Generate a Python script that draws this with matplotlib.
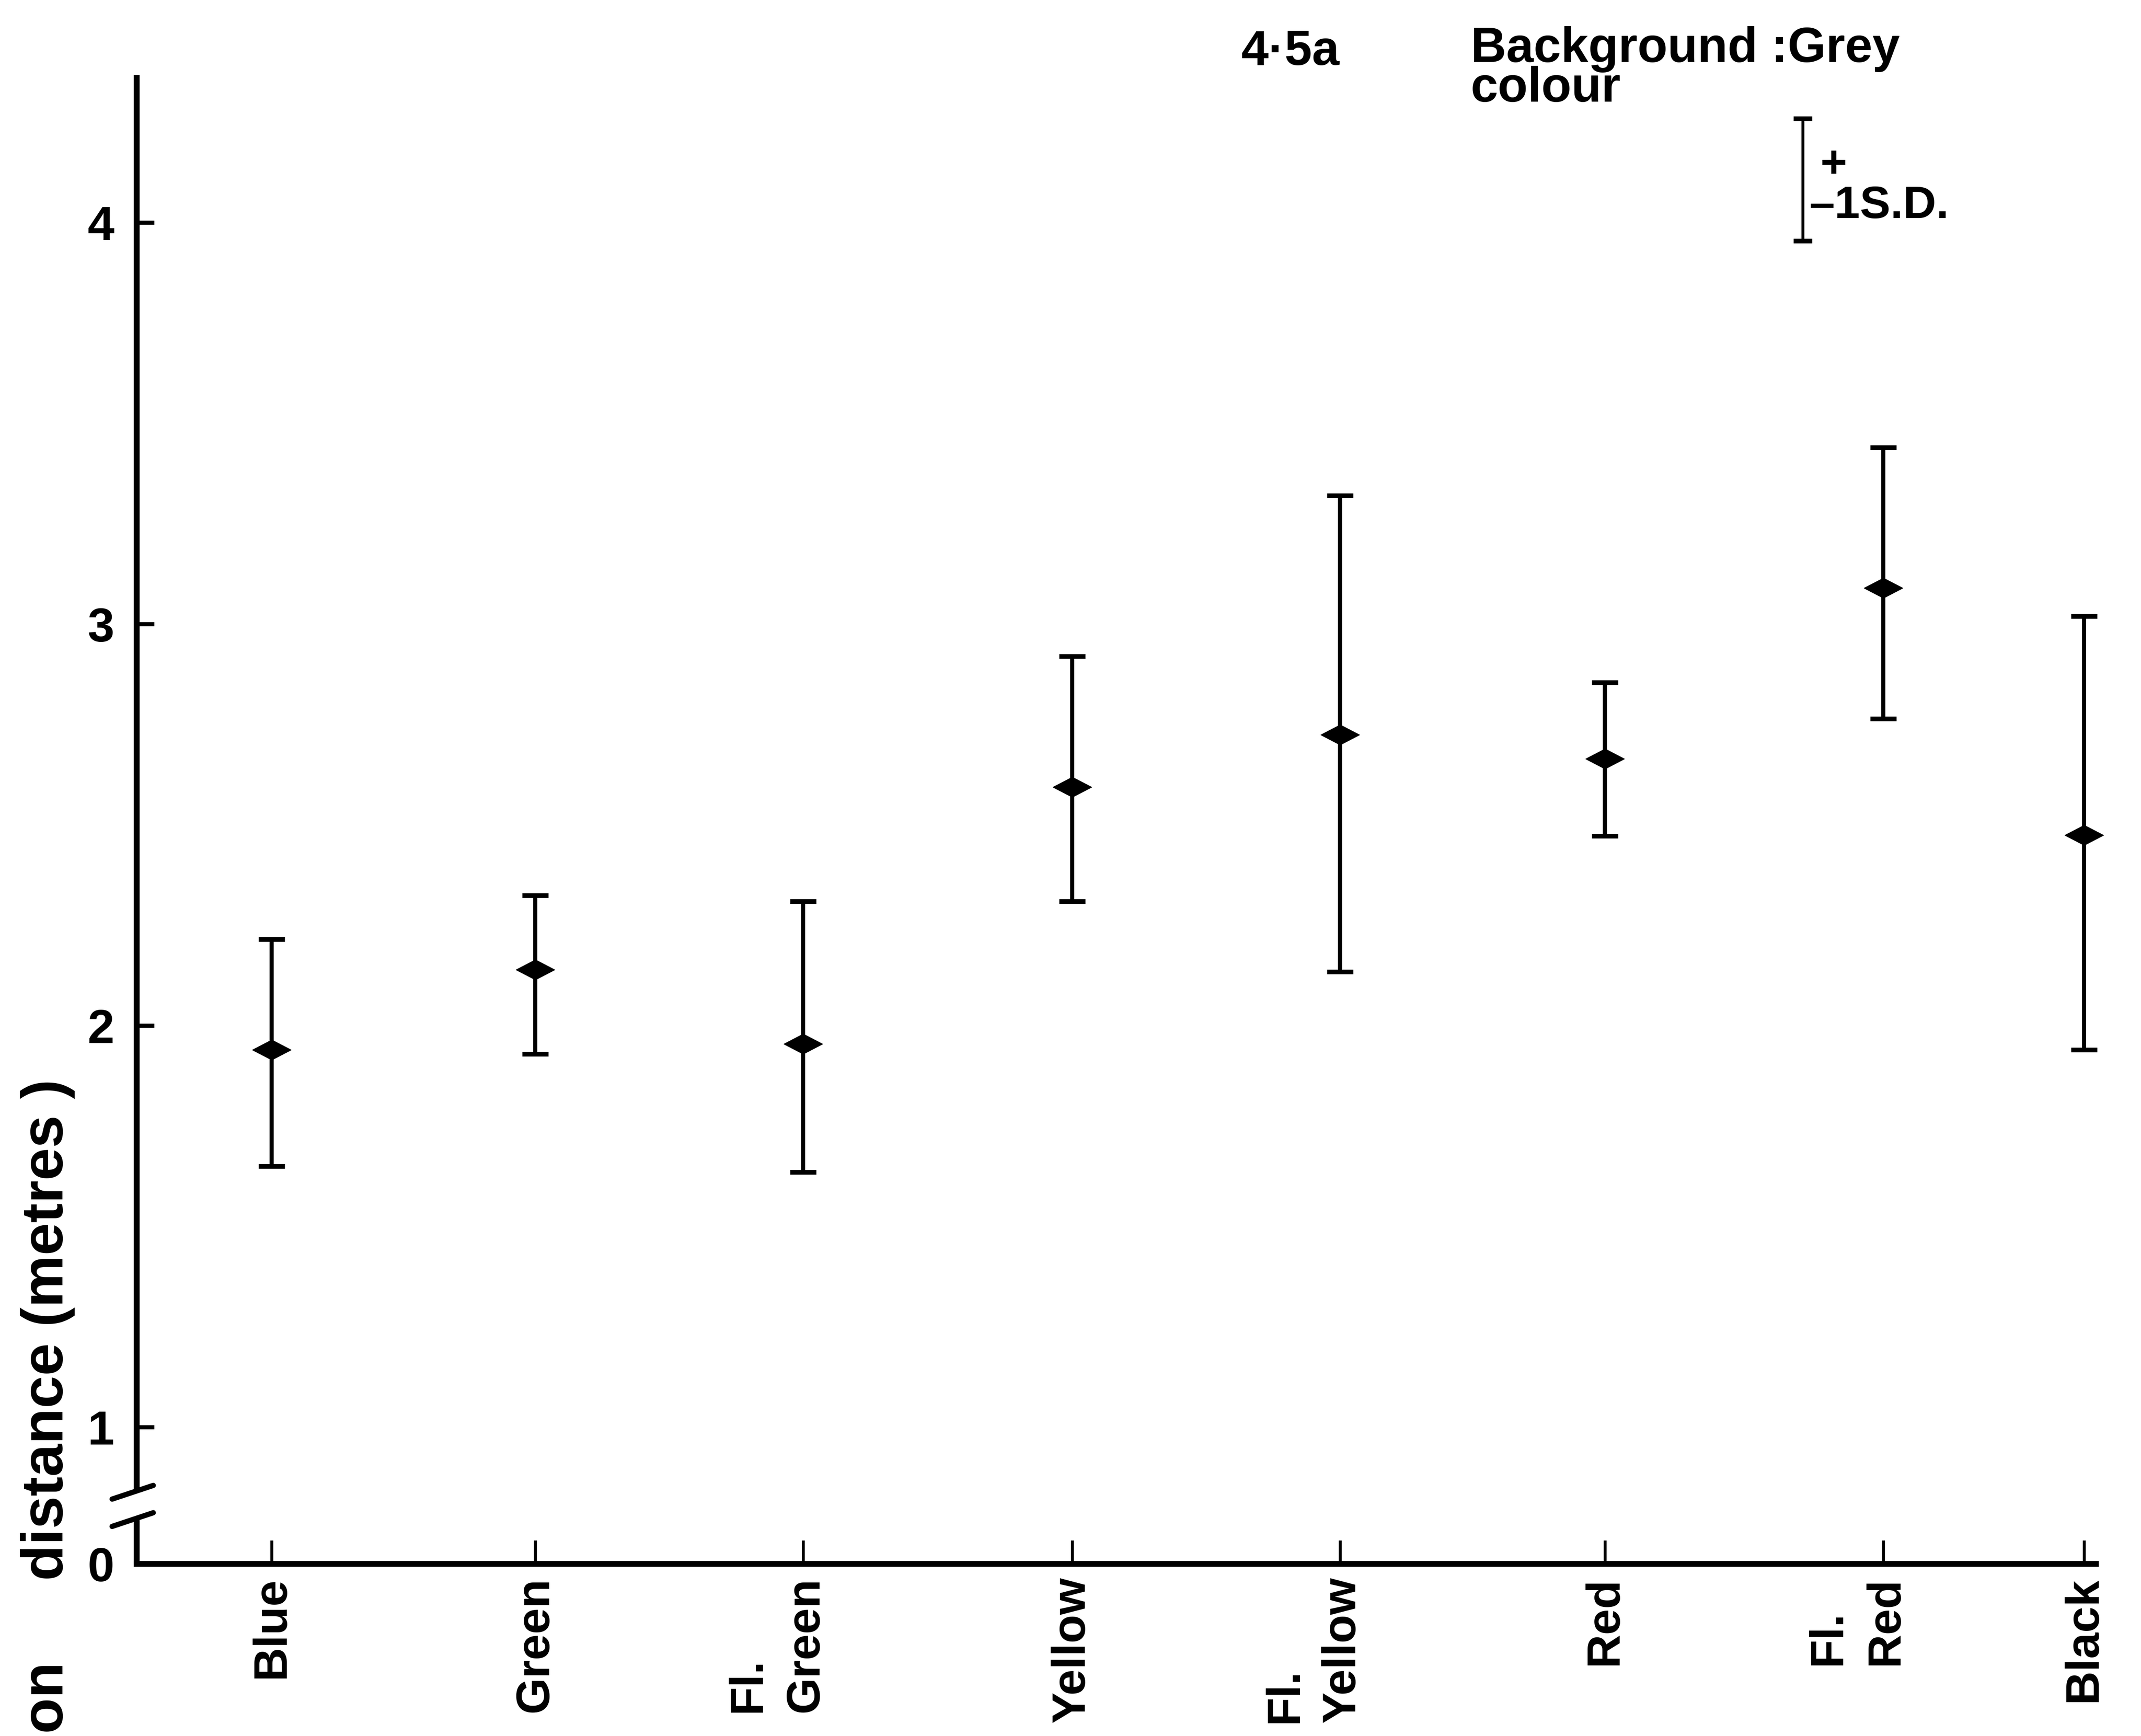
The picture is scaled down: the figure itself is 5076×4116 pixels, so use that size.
import numpy as np
import matplotlib
matplotlib.use("Agg")
import matplotlib.pyplot as plt
from matplotlib.path import Path
from matplotlib.transforms import ScaledTranslation

plt.rcParams['font.family'] = ['Liberation Sans', 'DejaVu Sans']
plt.rcParams['font.weight'] = 'bold'

# data (metres)
colours = ['Blue', 'Green', 'Fl.\nGreen', 'Yellow', 'Fl.\nYellow', 'Red', 'Fl.\nRed', 'Black']
x_pos = [0, 0.985, 1.985, 2.99, 3.99, 4.98, 6.02, 6.77]
means = [1.94, 2.14, 1.955, 2.595, 2.725, 2.665, 3.09, 2.475]
upper = [2.215, 2.325, 2.31, 2.92, 3.32, 2.855, 3.44, 3.02]
lower = [1.65, 1.93, 1.636, 2.31, 2.135, 2.473, 2.765, 1.94]

ytick_vals = [1, 2, 3, 4]
y_zero = 0.66          # where the broken axis puts "0"
brk_hi, brk_lo = 0.84, 0.772

means = np.array(means)
err = [means - np.array(lower), np.array(upper) - means]

fig = plt.figure(figsize=(50.76, 41.16), dpi=100)
ax = fig.add_axes([0.0638, 0.0991, 0.9152, 0.8576])

ax.errorbar(x_pos, means, yerr=err, fmt='none', ecolor='black',
            elinewidth=7, capsize=22, capthick=8, clip_on=False)
diamond = Path([(-1, 0), (0, 0.52), (1, 0), (0, -0.52), (-1, 0)],
               [Path.MOVETO, Path.LINETO, Path.LINETO, Path.LINETO, Path.CLOSEPOLY])
ax.plot(x_pos, means, linestyle='none', marker=diamond, markersize=66, color='black',
        clip_on=False)

# legend key: +/- 1 S.D. bar
ax.errorbar([5.72], [4.107], yerr=[[0.152], [0.152]], fmt='none', ecolor='black',
            elinewidth=5, capsize=16, capthick=8, clip_on=False)
fig.text(1343 / 1568, 1 - 121 / 1271, '+', fontsize=78, ha='center', va='center')
fig.text(1325 / 1568, 1 - 151 / 1271, '\u20131S.D.', fontsize=78, ha='left', va='center')

ax.set_xlim(-0.505, 6.815)
ax.set_ylim(y_zero, 4.367)

for s in ['top', 'right', 'left']:
    ax.spines[s].set_visible(False)
ax.spines['bottom'].set_linewidth(10)

# broken y axis drawn by hand
yt = ax.get_yaxis_transform()
ax.plot([0, 0], [4.367, brk_hi], color='black', lw=10, transform=yt, clip_on=False,
        solid_capstyle='butt')
ax.plot([0, 0], [brk_lo, y_zero], color='black', lw=10, transform=yt, clip_on=False,
        solid_capstyle='butt')
span = 4.367 - y_zero
for b in (brk_hi, brk_lo):
    yc = (b - y_zero) / span
    ax.plot([-0.0125, 0.0085], [yc - 0.0050, yc + 0.0042], color='black', lw=9,
            transform=ax.transAxes, clip_on=False, solid_capstyle='round')

ax.set_yticks([y_zero] + ytick_vals)
ax.set_yticklabels(['0'] + [str(v) for v in ytick_vals])
ax.tick_params(axis='y', direction='in', length=30, width=7, pad=38, labelsize=82)

ax.set_xticks(x_pos)
ax.set_xticklabels(colours, rotation=90, va='top', ha='center',
                   multialignment='left', linespacing=1.4)
ax.tick_params(axis='x', direction='in', length=40, width=5, pad=22, labelsize=80)
for lab in ax.get_xticklabels():
    if '\n' in lab.get_text():
        lab.set_transform(lab.get_transform() + ScaledTranslation(-0.62, 0, fig.dpi_scale_trans))

fig.text(945 / 1568, 1 - 38 / 1271, '4\u00b75a', fontsize=84, ha='center', va='center')
fig.text(1077 / 1568, 1 - 19 / 1271, 'Background :Grey\ncolour', fontsize=84,
         ha='left', va='top', linespacing=0.82)

fig.text(35 / 1568, 1 - 790 / 1271, 'on     distance (metres )', fontsize=100,
         rotation=90, ha='center', va='top')

fig.savefig('out.png', dpi=100)
